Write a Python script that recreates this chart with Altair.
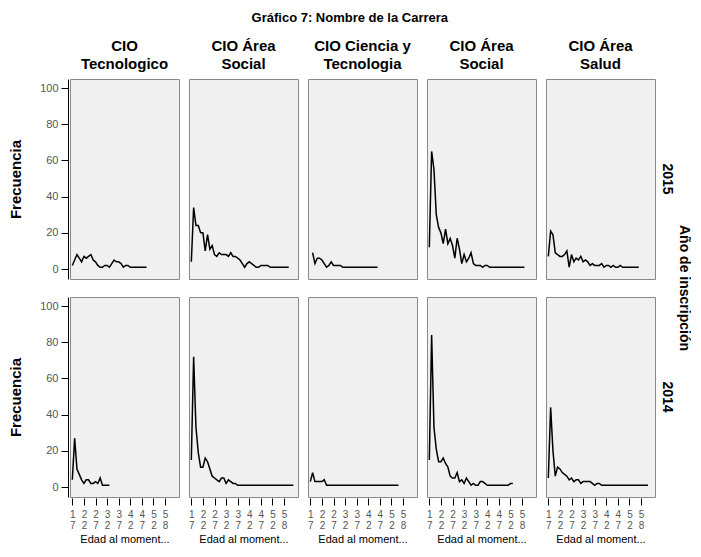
import json
import altair as alt
import pandas as pd

# ---- categories ----
AGES = ["17", "18", "19", "20", "21", "22", "23", "24", "25", "26",
        "27", "28", "29", "30", "31", "32", "33", "34", "35", "36",
        "37", "38", "39", "40", "41", "42", "43", "44", "45", "46",
        "47", "48", "49", "50", "51", "52", "53", "54", "55", "56",
        "58", "59", "60", "61", "63", "65"]
AXIS_AGES = ["17", "22", "27", "32", "37", "42", "47", "52", "58"]
CARRERAS = ["CIO Tecnologico", "CIO Área Social", "CIO Ciencia y Tecnologia",
            "CIO Área Social", "CIO Área Salud"]
HEADER_LINES = [["CIO", "Tecnologico"], ["CIO Área", "Social"],
                ["CIO Ciencia y", "Tecnologia"], ["CIO Área", "Social"],
                ["CIO Área", "Salud"]]
YEARS = ["2015", "2014"]

# ---- frequencies (index 0 = age 17), None = no data ----
F2015_TEC = [2, 5, 8, 6, 4, 7, 6, 7, 8, 5, 4, 2, 1, 1, 2, 2, 1, 3, 5, 4,
             4, 3, 1, 2, 2, 1, 1, 1, 1, 1, 1, 1, 1]
F2015_SOC1 = [4, 34, 24, 24, 20, 20, 10, 19, 11, 13, 8, 7, 9, 8, 8, 8, 7, 9, 7, 7,
              6, 5, 3, 1, 3, 4, 3, 2, 1, 1, 2, 2, 2, 2, 1, 1, 1, 1, 1, 1,
              1, 1, 1]
F2015_CYT = [None, 9, 3, 6, 6, 5, 3, 1, 2, 4, 2, 2, 2, 2, 1, 1, 1, 1, 1, 1,
             1, 1, 1, 1, 1, 1, 1, 1, 1, 1]
F2015_SOC2 = [12, 65, 55, 30, 23, 20, 14, 22, 14, 17, 13, 6, 17, 11, 3, 8, 4, 6, 9, 3,
              2, 2, 2, 1, 2, 2, 1, 1, 1, 1, 1, 1, 1, 1, 1, 1, 1, 1, 1, 1,
              1, 1]
F2015_SAL = [7, 21, 19, 9, 8, 7, 7, 8, 10, 1, 8, 4, 6, 5, 7, 4, 5, 4, 2, 3,
             2, 2, 2, 3, 1, 2, 2, 1, 2, 1, 1, 2, 1, 1, 1, 1, 1, 1, 1, 1]

F2014_TEC = [4, 27, 10, 7, 4, 2, 4, 4, 2, 2, 3, 2, 5, 1, 1, 1, 1]
F2014_SOC1 = [15, 72, 33, 19, 11, 11, 16, 14, 10, 6, 5, 4, 3, 5, 5, 2, 4, 3, 2, 2,
              1, 1, 1, 1, 1, 1, 1, 1, 1, 1, 1, 1, 1, 1, 1, 1, 1, 1, 1, 1,
              1, 1, 1, 1, 1]
F2014_CYT = [3, 8, 3, 3, 3, 3, 4, 1, 1, 1, 1, 1, 1, 1, 1, 1, 1, 1, 1, 1,
             1, 1, 1, 1, 1, 1, 1, 1, 1, 1, 1, 1, 1, 1, 1, 1, 1, 1, 1]
F2014_SOC2 = [15, 84, 33, 21, 14, 14, 16, 13, 11, 6, 5, 5, 8, 3, 4, 2, 5, 3, 1, 2,
              1, 1, 3, 3, 2, 1, 1, 1, 1, 1, 1, 1, 1, 1, 1, 2, 2]
F2014_SAL = [5, 44, 20, 6, 11, 10, 8, 7, 6, 4, 5, 3, 4, 4, 2, 3, 3, 3, 3, 2,
             1, 2, 2, 1, 1, 1, 1, 1, 1, 1, 1, 1, 1, 1, 1, 1, 1, 1, 1, 1,
             1, 1, 1, 1]

SERIES = {
    "2015": [F2015_TEC, F2015_SOC1, F2015_CYT, F2015_SOC2, F2015_SAL],
    "2014": [F2014_TEC, F2014_SOC1, F2014_CYT, F2014_SOC2, F2014_SAL],
}

rows = []
for year in YEARS:
    for c, serie in enumerate(SERIES[year]):
        for i, v in enumerate(serie):
            if v is not None:
                rows.append({"anio": year, "col": c, "carrera": CARRERAS[c],
                             "edad": AGES[i], "freq": v})
df = pd.DataFrame(rows)

header_expr = json.dumps(HEADER_LINES, ensure_ascii=False) + "[toNumber(datum.value)]"

FONT = "Liberation Sans"

base = alt.Chart(df).mark_line(color="black", strokeWidth=1.5).encode(
    x=alt.X("edad:O",
            scale=alt.Scale(type="point", domain=AGES, padding=2.3),
            axis=alt.Axis(values=AXIS_AGES, labelExpr="split(datum.label, '')",
                          labelAngle=0, tickSize=7, tickColor="black",
                          labelColor="#555555", labelFontSize=10, labelLineHeight=11,
                          labelPadding=4, domain=False,
                          title="Edad al moment...", titleFontWeight="normal",
                          titleFontSize=11, titlePadding=3, titleColor="black")),
    y=alt.Y("freq:Q",
            scale=alt.Scale(domain=[-5.5, 105], nice=False, zero=False),
            axis=alt.Axis(values=[0, 20, 40, 60, 80, 100], tickSize=7,
                          tickColor="black", domainColor="black",
                          labelColor="#555555", labelFontSize=11, labelPadding=3,
                          grid=False, title="Frecuencia", titleFontWeight="bold",
                          titleFontSize=15, titlePadding=16, titleColor="black")),
).properties(width=109, height=200)

chart = base.facet(
    column=alt.Column("col:O",
                      header=alt.Header(labelExpr=header_expr, labelFontSize=15,
                                        labelFontWeight="bold", labelColor="black",
                                        labelLineHeight=18, labelPadding=6,
                                        title=None)),
    row=alt.Row("anio:N", sort=YEARS,
                header=alt.Header(labelAngle=90, labelOrient="right",
                                  labelFontSize=14, labelFontWeight="bold",
                                  labelColor="black", labelPadding=4,
                                  title="Año de inscripción", titleOrient="right",
                                  titleAngle=90, titleFontSize=14,
                                  titleFontWeight="bold", titlePadding=-7)),
    spacing={"row": 16, "column": 7},
).properties(
    padding={"left": 0, "top": 4, "right": 0, "bottom": 0},
    title=alt.TitleParams("Gráfico 7: Nombre de la Carrera", fontSize=13,
                          fontWeight="bold", anchor="middle", frame="bounds",
                          color="black", offset=14),
).configure(font=FONT).configure_view(fill="#f0f0f0", stroke="#888888", strokeWidth=1)

chart.save("out.html", embed_options={"renderer": "svg", "actions": False})
